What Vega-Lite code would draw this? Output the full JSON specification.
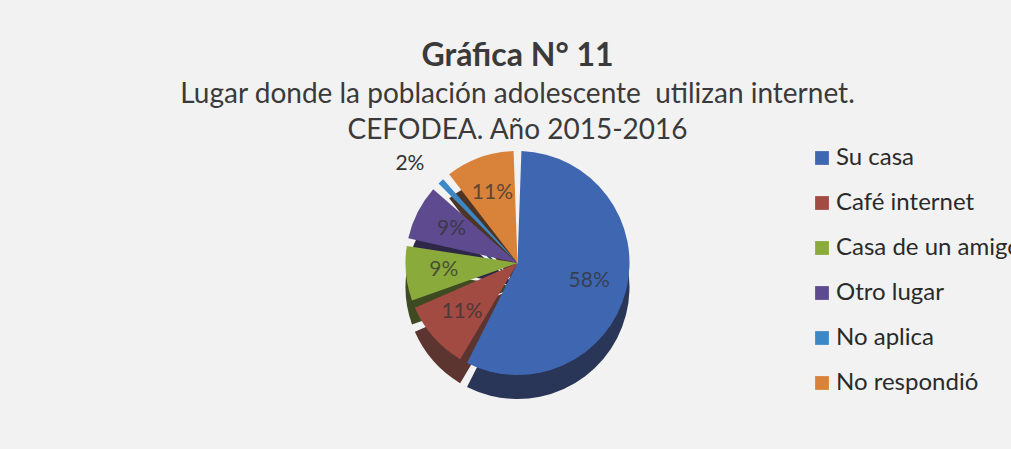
{
  "$schema": "https://vega.github.io/schema/vega-lite/v6.json",
  "width": 987,
  "height": 206,
  "autosize": {"type": "none"},
  "padding": {"left": 24, "right": 0, "top": 160, "bottom": 83},
  "background": "#F2F2F2",
  "view": {"stroke": null},
  "title": {
    "text": "Gráfica N° 11",
    "subtitle": ["Lugar donde la población adolescente \u00a0utilizan internet.", "CEFODEA. Año 2015-2016"],
    "anchor": "middle",
    "frame": "group",
    "font": "Lato",
    "fontSize": 32,
    "fontWeight": "bold",
    "color": "#3a3a3a",
    "subtitleFont": "Lato",
    "subtitleFontSize": 28,
    "subtitleColor": "#3a3a3a",
    "subtitleLineHeight": 36,
    "subtitlePadding": 8,
    "offset": 0
  },
  "data": {
    "values": [
      {"lugar": "Su casa", "pct": 58, "label": "58%", "orden": 1},
      {"lugar": "Café internet", "pct": 11, "label": "11%", "orden": 2},
      {"lugar": "Casa de un amigo", "pct": 9, "label": "9%", "orden": 3},
      {"lugar": "Otro lugar", "pct": 9, "label": "9%", "orden": 4},
      {"lugar": "No aplica", "pct": 2, "label": "2%", "orden": 5},
      {"lugar": "No respondió", "pct": 11, "label": "11%", "orden": 6}
    ]
  },
  "encoding": {
    "theta": {"field": "pct", "type": "quantitative", "stack": true},
    "order": {"field": "orden", "type": "quantitative"}
  },
  "layer": [
    {
      "mark": {"type": "arc", "outerRadius": 112, "padAngle": 0.07, "yOffset": 24},
      "encoding": {
        "color": {
          "field": "lugar",
          "type": "nominal",
          "sort": ["Su casa", "Café internet", "Casa de un amigo", "Otro lugar", "No aplica", "No respondió"],
          "scale": {
            "domain": ["Su casa", "Café internet", "Casa de un amigo", "Otro lugar", "No aplica", "No respondió"],
            "range": ["#2A3657", "#5C3531", "#3E4A22", "#2E2848", "#254E6C", "#4E3424"]
          },
          "legend": null
        }
      }
    },
    {
      "mark": {"type": "arc", "outerRadius": 112, "padAngle": 0.07},
      "encoding": {
        "color": {
          "field": "lugar",
          "type": "nominal",
          "sort": ["Su casa", "Café internet", "Casa de un amigo", "Otro lugar", "No aplica", "No respondió"],
          "scale": {
            "domain": ["Su casa", "Café internet", "Casa de un amigo", "Otro lugar", "No aplica", "No respondió"],
            "range": ["#3F67B1", "#A14B42", "#8BAA3C", "#5E4A8E", "#3C88C6", "#D8823A"]
          },
          "legend": {
            "title": null,
            "orient": "none",
            "legendX": 786,
            "legendY": -14,
            "symbolType": "square",
            "symbolSize": 190,
            "symbolStrokeWidth": 0,
            "labelFont": "Lato",
            "labelFontSize": 24,
            "labelColor": "#2a2a2a",
            "labelLimit": 400,
            "rowPadding": 21,
            "padding": 0,
            "labelOffset": 2
          }
        }
      }
    },
    {
      "mark": {
        "type": "text",
        "radius": {"expr": "datum.pct <= 2 ? 136 : 74"},
        "align": {"expr": "datum.pct <= 2 ? 'right' : 'center'"},
        "opacity": {"expr": "datum.pct <= 2 ? 1 : 0.75"},
        "font": "Lato",
        "fontSize": 21,
        "color": "#333333"
      },
      "encoding": {"text": {"field": "label"}}
    }
  ],
  "resolve": {"scale": {"color": "independent"}}
}
